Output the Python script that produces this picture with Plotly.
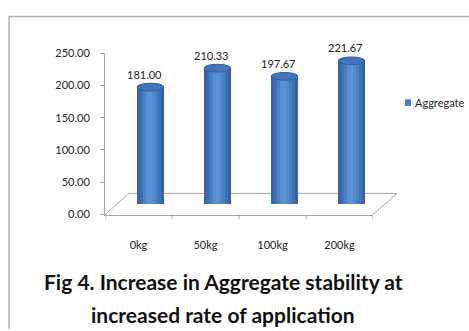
import plotly.graph_objects as go

# Aggregate stability by application rate
categories = ["0kg", "50kg", "100kg", "200kg"]
aggregate = [181.00, 210.33, 197.67, 221.67]
y_ticks = [0, 50, 100, 150, 200, 250]
y_tick_text = ["0.00", "50.00", "100.00", "150.00", "200.00", "250.00"]
series_name = "Aggregate"
title_lines = ["Fig 4. Increase in Aggregate stability at",
               "increased rate of application"]

W, H = 469, 331


def px(x):
    return x / W


def py(y):
    return 1 - y / H


# plot frame in pixels (front plane) and the depth shift of the bars
X0, X1 = 105, 373
Y0, Y1 = 216, 48
DX, DY = 12, 11
FONT = "Lato"

fig = go.Figure()

# front-plane subplot carries the visible axes
fig.add_trace(go.Scatter(x=list(range(len(categories))), y=aggregate, mode="none",
                         xaxis="x", yaxis="y", showlegend=False, hoverinfo="skip"))

# cylinder body: narrow vertical slices with a left-lit shading
shades = ["#3563a8", "#3f70b7", "#4b80c6", "#5790d2", "#5b93d4",
          "#538bcd", "#4a7fc3", "#3f71b5", "#3462a5"]
bar_w = 0.40
n = len(shades)
xs = list(range(len(categories)))
for k, c in enumerate(shades):
    fig.add_trace(go.Bar(
        x=xs, y=aggregate, xaxis="x2", yaxis="y2",
        width=bar_w / n + 0.004, offset=-bar_w / 2 + k * bar_w / n,
        marker=dict(color=c, line=dict(width=0)),
        name=series_name, showlegend=False, hoverinfo="skip",
    ))

# rounded top and bottom of each cylinder
eh = 6.0
shapes = []
for i, v in enumerate(aggregate):
    shapes.append(dict(type="circle", xref="x2", yref="y2",
                       x0=i - bar_w / 2, x1=i + bar_w / 2, y0=-eh, y1=eh,
                       fillcolor="#3d6db3", line=dict(width=0), layer="below"))
    shapes.append(dict(type="circle", xref="x2", yref="y2",
                       x0=i - bar_w / 2, x1=i + bar_w / 2, y0=v - eh, y1=v + eh,
                       fillcolor="#4275bc", line=dict(color="#2f5c9e", width=1)))

# floor of the 3-D plot area
grey = "#a6a6a6"
shapes.append(dict(type="path", xref="paper", yref="paper",
                   path=f"M {px(X0)},{py(Y0)} L {px(X0 + 2*DX)},{py(Y0 - 2*DY)} "
                        f"L {px(X1 + 2*DX)},{py(Y0 - 2*DY)} L {px(X1)},{py(Y0)}",
                   line=dict(color=grey, width=1), layer="below"))

# outer chart border
shapes.append(dict(type="path", xref="paper", yref="paper",
                   path=f"M {px(9)},{py(335)} L {px(9)},{py(10)} L {px(472)},{py(10)}",
                   line=dict(color="#b4b4b4", width=1.5)))

# legend key
shapes.append(dict(type="rect", xref="paper", yref="paper",
                   x0=px(405), x1=px(411), y0=py(103), y1=py(96),
                   fillcolor="#4a7fc6", line=dict(width=0)))

# value labels above each cylinder
annotations = []
for i, v in enumerate(aggregate):
    annotations.append(dict(x=i, y=v, xref="x", yref="y2", text=f"{v:.2f}",
                            showarrow=False, xshift=6, yshift=13,
                            font=dict(family=FONT, size=11, color="#222")))

annotations.append(dict(x=px(413), y=py(99.5), xref="paper", yref="paper",
                        xanchor="left", yanchor="middle", text=series_name,
                        showarrow=False,
                        font=dict(family=FONT, size=11, color="#222")))

for line, yc in zip(title_lines, [286, 320]):
    annotations.append(dict(
        x=px(223), y=py(yc), xref="paper", yref="paper",
        xanchor="center", yanchor="middle",
        text=f"<b>{line}</b>", showarrow=False,
        font=dict(family=FONT, size=21, color="#111")))

axis_font = dict(family=FONT, size=11, color="#222")

fig.update_layout(
    width=W, height=H, margin=dict(l=0, r=0, t=0, b=0),
    paper_bgcolor="white", plot_bgcolor="rgba(0,0,0,0)",
    barmode="overlay", bargap=0,
    showlegend=False,
    xaxis=dict(domain=[px(X0), px(X1)], range=[-0.5, 3.5], type="linear",
               tickmode="array", tickvals=[0, 1, 2, 3], ticktext=categories,
               showline=True, linecolor=grey, linewidth=1,
               ticks="", showgrid=False, zeroline=False,
               ticklabelstandoff=20, tickfont=axis_font, anchor="y"),
    yaxis=dict(domain=[py(Y0), py(Y1)], range=[0, 250],
               tickmode="array", tickvals=y_ticks, ticktext=y_tick_text,
               showline=True, linecolor=grey, linewidth=1,
               ticks="outside", ticklen=4, tickcolor=grey,
               showgrid=False, zeroline=False, ticklabelstandoff=8,
               tickfont=axis_font, anchor="x"),
    xaxis2=dict(domain=[px(X0 + DX), px(X1 + DX)], range=[-0.5, 3.5],
                visible=False, anchor="y2"),
    yaxis2=dict(domain=[py(Y0 - DY), py(Y1 - DY)], range=[0, 250],
                visible=False, anchor="x2"),
    shapes=shapes, annotations=annotations,
)

# tick marks below the front floor edge, at category boundaries
for b in [-0.5, 0.5, 1.5, 2.5, 3.5]:
    fig.add_shape(type="line", xref="x", yref="paper", x0=b, x1=b,
                  y0=py(Y0), y1=py(Y0 + 5), line=dict(color=grey, width=1))

fig.write_html("out.html")
